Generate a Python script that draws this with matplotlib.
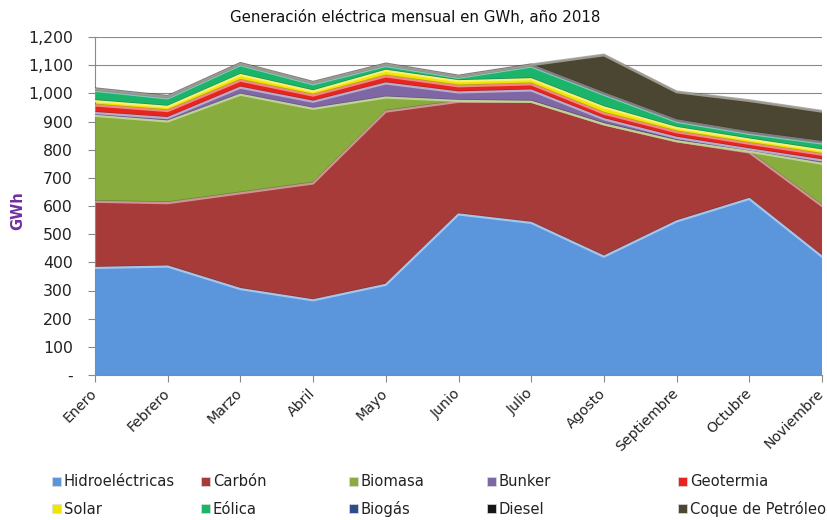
import numpy as np
import matplotlib
matplotlib.use("Agg")
import matplotlib.pyplot as plt
import matplotlib.colors as mcolors
import matplotlib.transforms as mtransforms
from matplotlib.patches import Patch
from matplotlib.ticker import FuncFormatter, MultipleLocator

# Monthly generation by source (GWh), 2018
months = ["Enero", "Febrero", "Marzo", "Abril", "Mayo", "Junio", "Julio",
          "Agosto", "Septiembre", "Octubre", "Noviembre"]
hidro   = [380, 385, 305, 265, 320, 570, 540, 420, 545, 625, 420]
carbon  = [235, 225, 340, 415, 615, 400, 430, 470, 285, 165, 180]
biomasa = [305, 290, 350, 265, 50, 3, 0, 0, 0, 3, 150]
bunker  = [10, 12, 25, 25, 50, 30, 40, 18, 12, 8, 12]
geoterm = [27, 25, 25, 22, 25, 22, 22, 20, 20, 20, 20]
solar   = [15, 15, 20, 15, 20, 18, 18, 22, 15, 15, 15]
eolica  = [37, 30, 35, 25, 17, 12, 45, 45, 22, 20, 25]
biogas  = [3, 3, 3, 3, 3, 3, 3, 3, 3, 3, 3]
diesel  = [3, 3, 2, 3, 3, 2, 2, 2, 2, 2, 2]
coque   = [0, 0, 0, 0, 0, 0, 0, 135, 100, 112, 108]

series_names = ["Hidroeléctricas", "Carbón", "Biomasa", "Bunker", "Geotermia",
                "Solar", "Eólica", "Biogás", "Diesel", "Coque de Petróleo"]
series = [hidro, carbon, biomasa, bunker, geoterm, solar, eolica, biogas, diesel, coque]
colors = ["#5B95DC", "#A63B3A", "#88AD3E", "#7F66A4", "#E8241E",
          "#F0E400", "#1BB46B", "#2D4C8E", "#151515", "#4B4631"]

W, H = 827, 520
fig = plt.figure(figsize=(W / 100, H / 100), dpi=100)
ax = fig.add_axes([95 / W, 1 - 375 / H, (822 - 95) / W, (375 - 37) / H])

x = np.arange(len(months))
polys = ax.stackplot(x, *series, colors=colors, linewidth=0, zorder=2)

# bevel-like edges: light highlight on each band's top, thin shadow just above
shadow_tr = mtransforms.offset_copy(ax.transData, fig=fig, x=0, y=1.2, units="dots")
cum = np.cumsum(np.array(series, dtype=float), axis=0)
for top, col in zip(cum, colors):
    light = np.array(mcolors.to_rgb(col))
    light = light + (1 - light) * 0.45
    ax.plot(x, top, color=(0.2, 0.2, 0.2), alpha=0.35, lw=0.9,
            transform=shadow_tr, zorder=3, solid_joinstyle="round")
    ax.plot(x, top, color=light, lw=1.6, zorder=3, solid_joinstyle="round")

ax.set_xlim(0, len(months) - 1)
ax.set_ylim(0, 1200)
ax.yaxis.set_major_locator(MultipleLocator(100))
ax.yaxis.set_major_formatter(FuncFormatter(lambda v, p: "-" if v == 0 else f"{int(v):,}"))
ax.set_axisbelow(True)
ax.grid(axis="y", color="#8a8a8a", lw=0.8)
for s in ("top", "right"):
    ax.spines[s].set_visible(False)
for s in ("left", "bottom"):
    ax.spines[s].set_color("#8a8a8a")
ax.tick_params(axis="both", colors="#8a8a8a", length=5, width=0.8, direction="out")
ax.tick_params(axis="y", labelsize=11.3, labelcolor="#222222", pad=11)
ax.tick_params(axis="x", labelsize=10.2, labelcolor="#222222", pad=3)
ax.set_xticks(x)
ax.set_xticklabels(months, rotation=45, ha="right", rotation_mode="anchor")
shift = mtransforms.ScaledTranslation(-5 / 100, 0, fig.dpi_scale_trans)
for lab in ax.get_xticklabels():
    lab.set_transform(lab.get_transform() + shift)

fig.text(18 / W, 1 - 211 / H, "GWh", rotation=90, color="#7030A0",
         fontsize=10.5, fontweight="bold", ha="center", va="center")
fig.text(415 / W, 1 - 17 / H, "Generación eléctrica mensual en GWh, año 2018",
         fontsize=10.8, color="#111111", ha="center", va="center")

# legend laid out as two rows of five
col_x = [52, 201, 349, 487, 678]
row_y = [482, 509]
for i, (name, col) in enumerate(zip(series_names, colors)):
    r, c = divmod(i, 5)
    h = Patch(facecolor=col, edgecolor="#dddddd", linewidth=0.5)
    fig.legend(handles=[h], labels=[name], loc="center left",
               bbox_to_anchor=(col_x[c] / W, 1 - row_y[r] / H),
               frameon=False, fontsize=10.6, handlelength=0.6, handleheight=0.6,
               handletextpad=0.2, borderpad=0, borderaxespad=0,
               labelcolor="#222222")

fig.savefig("out.png", dpi=100)
